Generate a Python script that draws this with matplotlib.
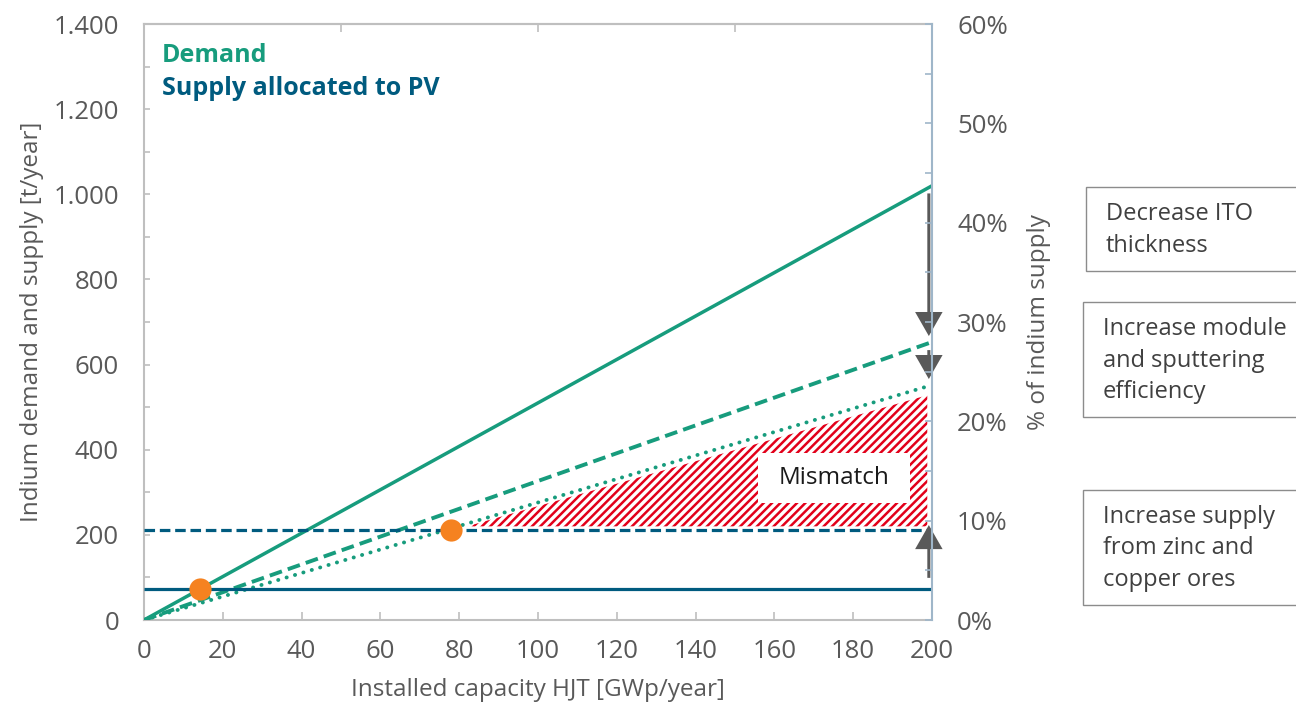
import matplotlib
matplotlib.use("Agg")
import matplotlib.pyplot as plt
from matplotlib.patches import Rectangle
from matplotlib.ticker import FuncFormatter, MultipleLocator, FixedLocator

plt.rcParams['font.family'] = ['Open Sans', 'DejaVu Sans']
plt.rcParams['hatch.linewidth'] = 1.8

# ---------------- data ----------------
capacity = [0, 200]                    # GWp/year
demand_base = [0, 1020]                # t/year, current ITO
demand_thin_ito = [0, 653]             # decreased ITO thickness
demand_efficient = [0, 552]            # + module and sputtering efficiency
supply_current = [73, 73]              # supply allocated to PV
supply_extended = [211, 211]           # + zinc and copper ores
cross_x = [14.3, 78]
cross_y = [73, 211]
mismatch_x = [82, 198.8]
mismatch_upper = [220, 528]
mismatch_lower = [220, 220]
mismatch_box = (155.8, 275, 194.4, 392)  # x0, y0, x1, y1
arrow_x = 199.2
arrow_from = [1002, 634, 99]
arrow_to = [667, 566, 223]
left_ticks = [0, 200, 400, 600, 800, 1000, 1200, 1400]
right_ticks = [0, 10, 20, 30, 40, 50, 60]
x_ticks = [0, 20, 40, 60, 80, 100, 120, 140, 160, 180, 200]
side_notes = ["Decrease ITO\nthickness",
              "Increase module\nand sputtering\nefficiency",
              "Increase supply\nfrom zinc and\ncopper ores"]

GREEN = '#179c7d'
BLUE = '#005b7f'
ORANGE = '#f58220'
RED = '#e2001a'
GRAY_TXT = '#595959'
SPINE = '#bfbfbf'
RSPINE = '#9fb6c9'
W, H = 1296, 706
TICK_FS = 18.5
LABEL_FS = 17.5

fig = plt.figure(figsize=(W / 100, H / 100), dpi=100)
ax = fig.add_axes([144 / W, 1 - 620 / H, (932 - 144) / W, (620 - 24) / H])
ax.set_xlim(0, 200)
ax.set_ylim(0, 1400)

# lines
ax.plot(capacity, demand_base, color=GREEN, lw=2.5, solid_capstyle='butt', zorder=4)
ax.plot(capacity, demand_thin_ito, color=GREEN, lw=2.8, ls=(0, (3.3, 1.6)),
        dash_capstyle='butt', zorder=4)
ax.plot(capacity, demand_efficient, color=GREEN, lw=2.8, ls=(0, (0.05, 2.2)),
        dash_capstyle='round', zorder=4)
ax.plot(capacity, supply_current, color=BLUE, lw=2.3, solid_capstyle='butt', zorder=4)
ax.plot(capacity, supply_extended, color=BLUE, lw=2.3, ls=(0, (3.3, 1.5)),
        dash_capstyle='butt', zorder=4)

# mismatch hatch
ax.fill_between(mismatch_x, mismatch_lower, mismatch_upper, facecolor='white',
                edgecolor=RED, hatch='////', linewidth=0, zorder=2)
bx0, by0, bx1, by1 = mismatch_box
ax.add_patch(Rectangle((bx0, by0), bx1 - bx0, by1 - by0, facecolor='white',
                       edgecolor='none', zorder=3))
ax.text((bx0 + bx1) / 2, (by0 + by1) / 2, "Mismatch", ha='center', va='center',
        fontsize=17.5, color='#1a1a1a', zorder=5)

# intersection dots
ax.plot(cross_x, cross_y, 'o', color=ORANGE, ms=16, mec='none', zorder=6)

# arrows
for a0, a1 in zip(arrow_from, arrow_to):
    ax.annotate('', xy=(arrow_x, a1), xytext=(arrow_x, a0),
                arrowprops=dict(arrowstyle='-|>,head_length=0.7,head_width=0.4',
                                color='#595959', lw=2.2, mutation_scale=20,
                                joinstyle='miter', capstyle='butt',
                                shrinkA=0, shrinkB=0), zorder=7)

# legend texts
ax.text(0.023, 0.937, "Demand", transform=ax.transAxes, fontsize=18,
        fontweight='bold', color=GREEN, va='baseline')
ax.text(0.023, 0.881, "Supply allocated to PV", transform=ax.transAxes, fontsize=18,
        fontweight='bold', color=BLUE, va='baseline')

# axes styling
for s in ['left', 'bottom', 'top']:
    ax.spines[s].set_color(SPINE)
    ax.spines[s].set_linewidth(1.5)
ax.spines['right'].set_visible(False)
ax.yaxis.set_major_locator(FixedLocator(left_ticks))
ax.yaxis.set_minor_locator(MultipleLocator(100))
ax.yaxis.set_major_formatter(FuncFormatter(lambda v, p: f"{int(v):,}".replace(',', '.')))
ax.set_xticks(x_ticks)
ax.tick_params(axis='y', which='both', direction='in', length=4, width=1.2,
               color=SPINE, labelsize=TICK_FS, labelcolor=GRAY_TXT, pad=18)
ax.tick_params(axis='x', which='both', direction='in', length=5.8, width=1.2,
               color=SPINE, labelsize=TICK_FS, labelcolor=GRAY_TXT, pad=13.5)
ax.set_xlabel("Installed capacity HJT [GWp/year]", fontsize=LABEL_FS, color=GRAY_TXT, labelpad=10.5)
ax.set_ylabel("Indium demand and supply [t/year]", fontsize=LABEL_FS, color=GRAY_TXT, labelpad=7)

sec = ax.secondary_xaxis('top')
sec.set_xticks([50, 100, 150])
sec.tick_params(direction='in', length=5.8, width=1.2, color=SPINE, labeltop=False)
sec.spines['top'].set_color(SPINE)
sec.spines['top'].set_linewidth(1.5)

ax2 = ax.twinx()
ax2.set_ylim(0, 60)
ax2.yaxis.set_major_locator(FixedLocator(right_ticks))
ax2.yaxis.set_minor_locator(MultipleLocator(5))
ax2.yaxis.set_major_formatter(FuncFormatter(lambda v, p: f"{int(v)}%"))
for s in ['left', 'bottom', 'top']:
    ax2.spines[s].set_visible(False)
ax2.spines['right'].set_color(RSPINE)
ax2.spines['right'].set_linewidth(1.5)
ax2.tick_params(axis='y', which='both', direction='in', length=5, width=1.2,
                color=RSPINE, labelsize=TICK_FS, labelcolor=GRAY_TXT, pad=18)
ax2.set_ylabel("% of indium supply", fontsize=LABEL_FS, color=GRAY_TXT, labelpad=14)

# side note boxes
boxes = [(1086, 187, 271), (1083, 302, 417), (1083, 490, 605)]
for (bl, bt, bb), note in zip(boxes, side_notes):
    fig.patches.append(Rectangle((bl / W, 1 - bb / H), (W + 20 - bl) / W, (bb - bt) / H,
                                 transform=fig.transFigure, facecolor='white',
                                 edgecolor='#8c8c8c', lw=1.0))
    fig.text((bl + 20) / W, 1 - (bt + (bb - bt) / 2 + 1) / H, note, fontsize=17,
             color='#404040', ha='left', va='center', linespacing=1.4)

fig.savefig("out.png", dpi=100)
